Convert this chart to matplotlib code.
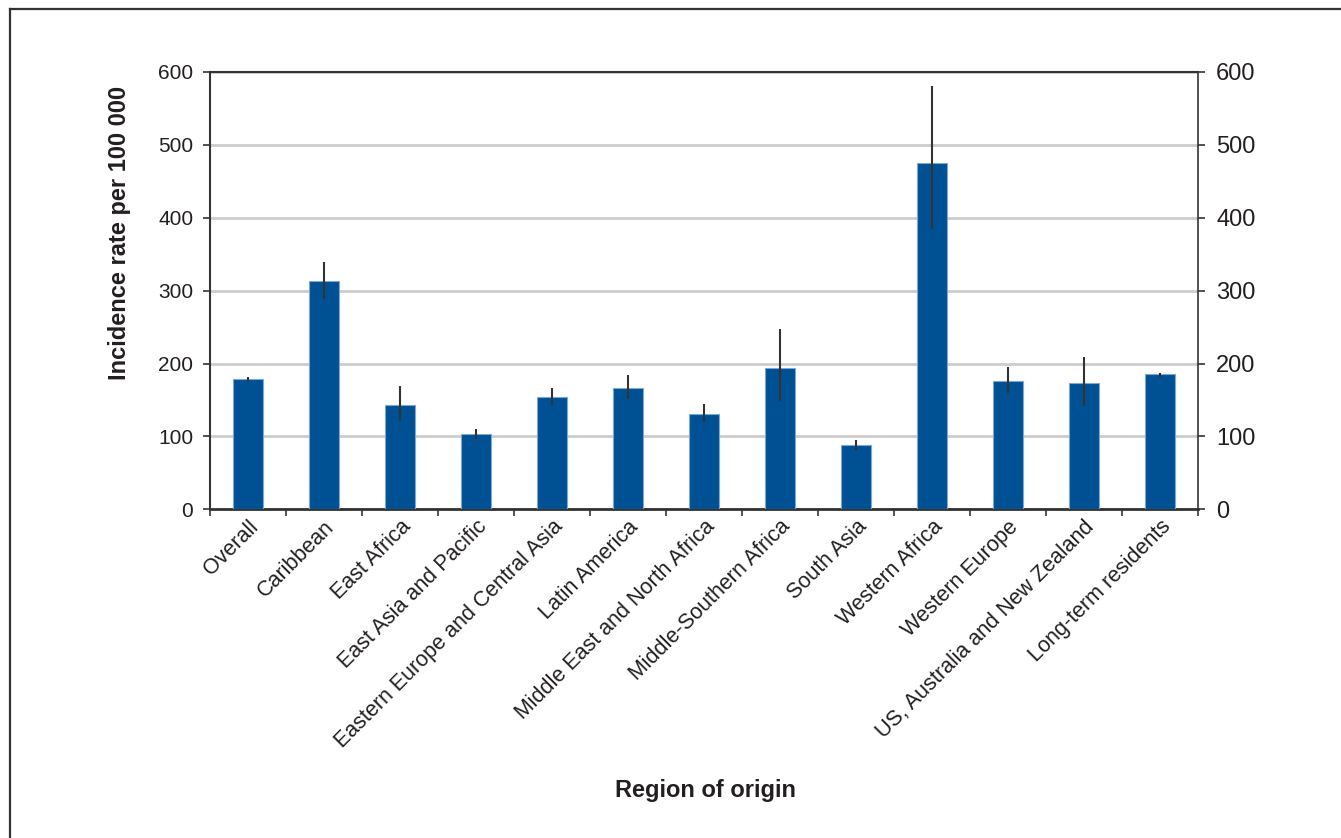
import matplotlib
matplotlib.use("Agg")
import matplotlib.pyplot as plt
from matplotlib.lines import Line2D
import numpy as np

plt.rcParams['font.family'] = ['Liberation Sans', 'DejaVu Sans']

regions = [
    "Overall", "Caribbean", "East Africa", "East Asia and Pacific",
    "Eastern Europe and Central Asia", "Latin America",
    "Middle East and North Africa", "Middle-Southern Africa", "South Asia",
    "Western Africa", "Western Europe", "US, Australia and New Zealand",
    "Long-term residents",
]
rates = [179, 313, 143, 104, 154, 167, 131, 194, 88, 475, 176, 173, 185]
ci_low = [176, 289, 121, 97, 143, 151, 120, 149, 82, 384, 159, 142, 182]
ci_high = [181, 339, 169, 110, 166, 184, 144, 248, 95, 581, 195, 209, 187]
yticks = [0, 100, 200, 300, 400, 500, 600]

bar_color = '#005194'
text_color = '#231f20'

fig = plt.figure(figsize=(13.41, 8.38), dpi=100)
ax = fig.add_axes([0.1566, 0.3922, 0.7368, 0.5220])

x = np.arange(len(regions))
rates = np.array(rates)
yerr = np.array([rates - np.array(ci_low), np.array(ci_high) - rates])

ax.bar(x, rates, width=0.4, color=bar_color, edgecolor='#7fa7d3', linewidth=0.8, zorder=3)
ax.errorbar(x, rates, yerr=yerr, fmt='none', ecolor='#333333', elinewidth=1.5,
            capsize=0, zorder=4)

ax.set_xlim(-0.5, len(regions) - 0.5)
ax.set_ylim(0, 600)
ax.set_yticks(yticks)
ax.yaxis.grid(True, color='#cccccc', linewidth=2, zorder=0)
ax.set_axisbelow(True)

# category labels centred under the bars, tick marks between them
ax.set_xticks(x)
ax.set_xticklabels(regions, rotation=45, ha='right', rotation_mode='anchor',
                   fontsize=15.5, color=text_color)
ax.tick_params(axis='x', which='major', length=0, pad=5)
ax.set_xticks(np.arange(len(regions) + 1) - 0.5, minor=True)
ax.tick_params(axis='x', which='minor', length=5, width=1.2, color='#333333')

ax.tick_params(axis='y', length=5, width=1.2, color='#333333', labelsize=15,
               labelcolor=text_color, pad=7)

for side in ['left', 'right', 'top', 'bottom']:
    ax.spines[side].set_color('#333333')
ax.spines['left'].set_linewidth(1.5)
ax.spines['bottom'].set_linewidth(2)
ax.spines['top'].set_linewidth(1.5)
ax.spines['right'].set_linewidth(1.2)

ax2 = ax.twinx()
ax2.set_ylim(0, 600)
ax2.set_yticks(yticks)
ax2.tick_params(axis='y', length=5, width=1.2, color='#333333', labelsize=17,
                labelcolor=text_color, pad=8)
for side in ['left', 'right', 'top', 'bottom']:
    ax2.spines[side].set_visible(False)

ax.set_ylabel('Incidence rate per 100 000', fontsize=17, fontweight='bold',
              color=text_color)
ax.yaxis.set_label_coords(-0.08, 0.632)
fig.text(0.526, 0.057, 'Region of origin', fontsize=17, fontweight='bold',
         color=text_color, ha='center', va='center')

# outer frame (left and top edges)
fig.add_artist(Line2D([9.5 / 1341, 9.5 / 1341], [0, 1 - 9.5 / 838],
                      transform=fig.transFigure, color='#333333', linewidth=1.6))
fig.add_artist(Line2D([9.5 / 1341, 1], [1 - 9.5 / 838, 1 - 9.5 / 838],
                      transform=fig.transFigure, color='#333333', linewidth=1.6))

fig.savefig('out.png', dpi=100)
